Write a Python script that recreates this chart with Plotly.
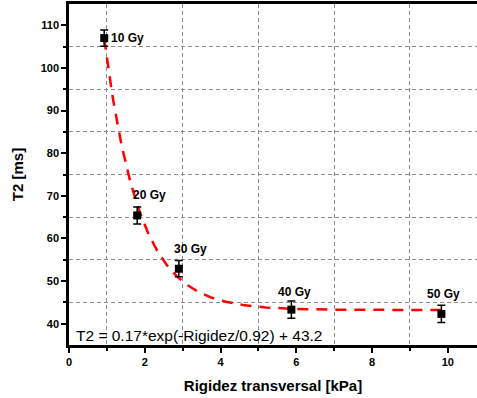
import numpy as np
import plotly.graph_objects as go

# Measured points: transverse stiffness vs T2 for each dose
rigidez = [0.93, 1.80, 2.90, 5.87, 9.83]
t2 = [107.0, 65.4, 52.9, 43.3, 42.3]
t2_err = [1.9, 2.0, 1.9, 2.0, 2.0]
dose_labels = ["10 Gy", "20 Gy", "30 Gy", "40 Gy", "50 Gy"]

# Exponential decay fit parameters
fit_amp = 175.0
fit_t1 = 0.92
fit_y0 = 43.2
fit_text = "T2 = 0.17*exp(-Rigidez/0.92) + 43.2"

x_ticks = [0, 2, 4, 6, 8, 10]
y_ticks = [40, 50, 60, 70, 80, 90, 100, 110]

FONT = "Liberation Sans, Arial, sans-serif"

x_fit = np.linspace(rigidez[0], rigidez[-1], 300)
y_fit = fit_amp * np.exp(-x_fit / fit_t1) + fit_y0

fig = go.Figure()

fig.add_trace(go.Scatter(
    x=x_fit, y=y_fit, mode="lines",
    line=dict(color="#ff0000", width=2.5, dash="11px,8px"),
    hoverinfo="skip", showlegend=False,
))

fig.add_trace(go.Scatter(
    x=rigidez, y=t2, mode="markers",
    marker=dict(symbol="square", size=8, color="black"),
    error_y=dict(type="data", array=t2_err, visible=True,
                 color="black", thickness=1.5, width=4),
    showlegend=False,
))

# Dose labels next to each point
label_shift = [(23, 0), (12, 20), (12, 20), (3, 18), (2, 20)]
for xv, yv, lab, (dx, dy) in zip(rigidez, t2, dose_labels, label_shift):
    fig.add_annotation(
        x=xv, y=yv, text="<b>" + lab + "</b>", showarrow=False,
        xshift=dx, yshift=dy,
        font=dict(family=FONT, size=12, color="black"),
    )

fig.add_annotation(
    x=0.13, y=37.3, xref="x", yref="y", text=fit_text,
    showarrow=False, xanchor="left", yanchor="middle",
    font=dict(family=FONT, size=15.5, color="black"),
)

fig.update_layout(
    width=477, height=398,
    margin=dict(l=69, r=0, t=4, b=53),
    plot_bgcolor="white", paper_bgcolor="white",
    font=dict(family=FONT, color="black"),
    xaxis=dict(
        range=[0, 10.77], tickvals=x_ticks,
        ticktext=["<b>%d</b>" % v for v in x_ticks], ticks="outside",
        ticklen=5, tickwidth=2, tickcolor="black",
        showline=True, linewidth=2.5, linecolor="black", mirror=True,
        showgrid=False, zeroline=False,
        tickfont=dict(family=FONT, size=11, color="black"),
        title=dict(text="<b>Rigidez transversal [kPa]</b>", standoff=14,
                   font=dict(family=FONT, size=15, color="black")),
        minor=dict(tickvals=[1, 3, 5, 7, 9], ticks="outside", ticklen=3,
                   tickwidth=2, tickcolor="black",
                   showgrid=True, gridcolor="#8c8c8c", griddash="4px,3px",
                   gridwidth=1),
    ),
    yaxis=dict(
        range=[35, 115], tickvals=y_ticks,
        ticktext=["<b>%d</b>" % v for v in y_ticks], ticks="outside",
        ticklen=5, tickwidth=2, tickcolor="black",
        showline=True, linewidth=2.5, linecolor="black",
        showgrid=False, zeroline=False,
        tickfont=dict(family=FONT, size=11, color="black"),
        title=dict(text="<b>T2 [ms]</b>", standoff=14,
                   font=dict(family=FONT, size=15, color="black")),
        minor=dict(tickvals=[45, 55, 65, 75, 85, 95, 105], ticks="outside",
                   ticklen=3, tickwidth=2, tickcolor="black",
                   showgrid=True, gridcolor="#8c8c8c", griddash="4px,3px",
                   gridwidth=1),
    ),
)

fig.write_html("out.html")
